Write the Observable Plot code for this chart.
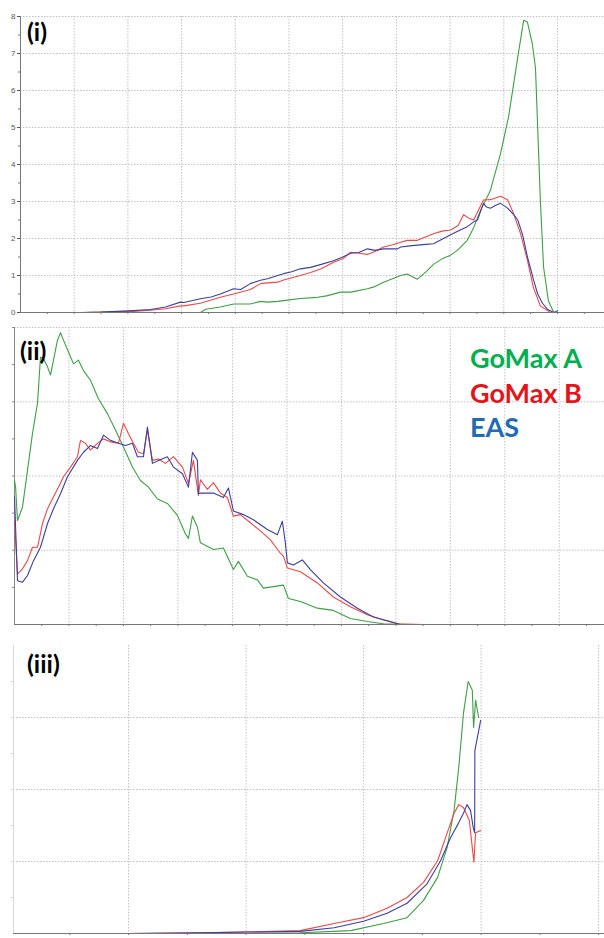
<!DOCTYPE html>
<html><head><meta charset="utf-8">
<script src="https://cdn.jsdelivr.net/npm/d3@7"></script>
<script src="https://cdn.jsdelivr.net/npm/@observablehq/plot@0.6"></script>
<style>
body{margin:0;background:#fff;width:604px;height:938px;position:relative;overflow:hidden;font-family:Lato,"Open Sans",sans-serif}
.panel{position:absolute;left:0}
.lab{position:absolute;font-weight:bold;font-size:25px;color:#000;line-height:1;white-space:nowrap}
.leg{position:absolute;left:470px;font-weight:bold;font-size:27px;line-height:1;white-space:nowrap}
</style></head><body>
<div id="p1" class="panel" style="top:0"></div>
<div id="p2" class="panel" style="top:318px"></div>
<div id="p3" class="panel" style="top:630px"></div>
<div class="lab" style="left:27px;top:19px">(i)</div>
<div class="lab" style="left:20px;top:338px">(ii)</div>
<div class="lab" style="left:27px;top:651px">(iii)</div>
<div class="leg" style="top:344px;color:#00b050">GoMax A</div>
<div class="leg" style="top:379px;color:#e3151c">GoMax B</div>
<div class="leg" style="top:413px;color:#1f6bb5">EAS</div>
<script>
// Series names and colours
const seriesNames = ["GoMax A", "GoMax B", "EAS"];
const lineColors = ["#3f9f46", "#ee4848", "#3d3f9e"];

// Panel (i): [x, value]
const p1GoMaxA = [[1.0,0],[3.35,0],[3.45,0.09],[3.72,0.15],[3.97,0.23],[4.28,0.23],[4.47,0.3],[4.6,0.28],[4.79,0.3],[4.9,0.32],[5.21,0.38],[5.53,0.41],[5.7,0.45],[5.96,0.55],[6.15,0.55],[6.46,0.64],[6.6,0.7],[6.76,0.82],[7.08,1.0],[7.2,1.04],[7.39,0.9],[7.55,1.1],[7.69,1.3],[7.85,1.45],[8.01,1.55],[8.15,1.7],[8.32,1.95],[8.44,2.3],[8.57,2.77],[8.75,3.3],[8.94,4.3],[9.09,5.3],[9.26,6.9],[9.37,7.9],[9.44,7.85],[9.53,7.27],[9.59,6.6],[9.68,3.05],[9.74,1.23],[9.83,0.32],[9.93,0]];
const p1GoMaxB = [[1.15,0],[1.5,0.01],[2.1,0.03],[2.42,0.06],[2.7,0.1],[2.98,0.18],[3.04,0.18],[3.35,0.25],[3.72,0.41],[3.97,0.5],[4.28,0.62],[4.47,0.78],[4.6,0.8],[4.79,0.82],[4.9,0.88],[5.21,1.0],[5.4,1.08],[5.6,1.18],[5.83,1.36],[6.0,1.45],[6.15,1.63],[6.3,1.6],[6.46,1.57],[6.6,1.65],[6.76,1.77],[6.9,1.82],[7.08,1.9],[7.2,1.95],[7.39,1.95],[7.55,2.05],[7.69,2.13],[7.85,2.2],[8.01,2.23],[8.15,2.35],[8.25,2.64],[8.35,2.55],[8.44,2.5],[8.62,3.04],[8.75,3.05],[8.94,3.14],[9.07,3.05],[9.18,2.68],[9.31,2.14],[9.44,1.41],[9.55,0.68],[9.68,0.18],[9.87,0]];
const p1EAS = [[1.15,0],[1.5,0.01],[2.1,0.05],[2.42,0.08],[2.7,0.15],[2.98,0.28],[3.04,0.27],[3.35,0.37],[3.55,0.42],[3.72,0.5],[3.97,0.64],[4.1,0.62],[4.28,0.78],[4.47,0.87],[4.6,0.91],[4.79,1.0],[4.9,1.05],[5.05,1.1],[5.21,1.18],[5.4,1.22],[5.6,1.3],[5.83,1.4],[6.0,1.5],[6.15,1.6],[6.3,1.62],[6.46,1.72],[6.6,1.68],[6.76,1.72],[7.02,1.72],[7.08,1.77],[7.25,1.8],[7.39,1.82],[7.55,1.84],[7.69,1.86],[7.85,1.98],[8.01,2.1],[8.15,2.2],[8.32,2.32],[8.44,2.45],[8.51,2.5],[8.62,2.95],[8.68,2.85],[8.75,2.82],[8.85,2.9],[8.94,2.95],[9.07,2.82],[9.18,2.65],[9.26,2.5],[9.35,2.1],[9.44,1.5],[9.55,0.9],[9.63,0.5],[9.72,0.25],[9.81,0.09],[9.93,0],[10.0,0.05]];
const p1YTicks = [0,1,2,3,4,5,6,7,8];

// Panel (ii): [x, value]
const p2GoMaxA = [[0,1.94],[0.02,1.85],[0.055,1.40],[0.147,1.58],[0.239,2.08],[0.33,2.57],[0.422,2.98],[0.477,3.6],[0.532,3.58],[0.606,3.47],[0.661,3.36],[0.716,3.56],[0.789,3.83],[0.844,3.93],[0.899,3.83],[0.991,3.67],[1.083,3.51],[1.174,3.56],[1.266,3.42],[1.394,3.29],[1.541,3.04],[1.706,2.84],[1.853,2.62],[2.0,2.39],[2.165,2.12],[2.312,1.94],[2.459,1.85],[2.624,1.69],[2.807,1.63],[2.991,1.47],[3.138,1.22],[3.193,1.16],[3.266,1.46],[3.358,1.31],[3.413,1.10],[3.651,1.01],[3.835,1.03],[4.018,0.74],[4.110,0.85],[4.275,0.65],[4.459,0.6],[4.569,0.49],[4.752,0.51],[4.936,0.53],[5.028,0.35],[5.248,0.31],[5.560,0.22],[5.853,0.19],[6.165,0.08],[6.477,0.04],[6.771,0.01],[7.2,0],[8.18,0]];
const p2GoMaxB = [[0,1.40],[0.055,0.68],[0.147,0.75],[0.239,0.86],[0.33,1.04],[0.422,1.04],[0.514,1.36],[0.606,1.56],[0.716,1.72],[0.807,1.85],[0.899,1.99],[1.028,2.12],[1.156,2.26],[1.211,2.48],[1.303,2.44],[1.394,2.35],[1.523,2.44],[1.633,2.5],[1.761,2.46],[1.908,2.44],[2.0,2.71],[2.092,2.57],[2.183,2.44],[2.275,2.32],[2.367,2.3],[2.44,2.62],[2.532,2.21],[2.642,2.23],[2.771,2.17],[2.917,2.26],[3.083,2.12],[3.193,1.9],[3.284,2.21],[3.376,1.74],[3.413,1.95],[3.541,1.82],[3.651,1.91],[3.780,1.77],[3.908,1.71],[4.018,1.46],[4.147,1.48],[4.330,1.37],[4.514,1.26],[4.697,1.14],[4.881,0.96],[4.936,0.92],[5.009,0.76],[5.248,0.71],[5.560,0.56],[5.853,0.37],[6.165,0.24],[6.477,0.13],[6.771,0.06],[7.028,0.01],[7.5,0],[8.18,0]];
const p2EAS = [[0,1.72],[0.055,0.59],[0.147,0.57],[0.239,0.66],[0.349,0.86],[0.477,1.04],[0.606,1.36],[0.716,1.56],[0.844,1.76],[0.972,1.99],[1.156,2.21],[1.266,2.32],[1.394,2.41],[1.523,2.37],[1.633,2.55],[1.761,2.48],[1.908,2.44],[2.037,2.41],[2.165,2.44],[2.257,2.26],[2.367,2.26],[2.44,2.66],[2.532,2.17],[2.642,2.21],[2.807,2.26],[2.917,2.12],[3.083,2.03],[3.193,1.85],[3.266,2.32],[3.358,2.21],[3.376,1.76],[3.413,1.77],[3.651,1.77],[3.835,1.71],[3.927,1.84],[4.018,1.53],[4.202,1.48],[4.385,1.41],[4.642,1.28],[4.826,1.21],[4.917,1.39],[4.972,1.1],[5.009,0.83],[5.119,0.8],[5.284,0.87],[5.431,0.74],[5.670,0.56],[5.982,0.37],[6.294,0.22],[6.587,0.1],[6.899,0.04],[7.083,0.0],[8.18,0]];

// Panel (iii): [x, value]
const p3GoMaxA = [[1.0,0],[2.0,0],[2.46,0.01],[2.89,0.04],[3.17,0.14],[3.37,0.22],[3.51,0.46],[3.63,0.78],[3.71,1.19],[3.77,1.71],[3.81,2.31],[3.85,3.06],[3.89,3.5],[3.925,3.38],[3.936,2.86],[3.953,3.24],[3.979,3.0]];
const p3GoMaxB = [[1.0,0],[1.61,0.01],[2.0,0.02],[2.46,0.04],[2.75,0.14],[3.0,0.22],[3.2,0.35],[3.37,0.5],[3.51,0.71],[3.63,1.01],[3.71,1.39],[3.77,1.67],[3.81,1.79],[3.85,1.75],[3.9,1.57],[3.925,1.19],[3.939,0.99],[3.953,1.40],[3.996,1.43]];
const p3EAS = [[1.0,0],[1.61,0.01],[2.0,0.02],[2.46,0.03],[2.75,0.08],[3.0,0.17],[3.2,0.28],[3.37,0.42],[3.54,0.69],[3.655,1.01],[3.74,1.33],[3.81,1.54],[3.85,1.67],[3.88,1.79],[3.91,1.71],[3.934,1.46],[3.945,1.40],[3.947,2.54],[3.98,2.82],[3.996,2.96]];

const gridStyle = {stroke: "#c2c2c2", strokeDasharray: "1.5,1.5", strokeWidth: 1};

function panel(el, o) {
  const marks = [
    Plot.ruleX(o.xGrid, gridStyle),
    Plot.ruleY(o.yGrid, gridStyle),
    Plot.axisX(o.xMinor, {tickSize: 2, tickFormat: () => "", label: null, stroke: "#777"}),
    Plot.axisY(o.yMinor, {tickSize: 2, tickFormat: () => "", label: null, stroke: o.leftColor}),
  ];
  if (o.yLabels) marks.push(Plot.axisY(o.yLabels, {tickSize: 3, tickPadding: 2, fontSize: 8, color: "#555", label: null}));
  marks.push(
    Plot.ruleX([o.xDomain[0]], {stroke: o.leftColor, strokeWidth: 1}),
    Plot.ruleY([0], {stroke: "#777", strokeWidth: 1.2})
  );
  o.series.forEach((s, i) => marks.push(Plot.line(s, {x: d => d[0], y: d => d[1], stroke: lineColors[i], strokeWidth: 1.1, clip: true})));
  const chart = Plot.plot({
    width: 604, height: o.height,
    marginLeft: o.ml, marginRight: 0, marginTop: o.mt, marginBottom: o.mb,
    x: {domain: o.xDomain},
    y: {domain: o.yDomain},
    style: {background: "transparent", fontFamily: "Liberation Sans"},
    marks
  });
  document.getElementById(el).appendChild(chart);
}

panel("p1", {
  height: 318, ml: 20, mt: 16, mb: 6,
  xDomain: [0, 10.875], yDomain: [0, 8],
  xGrid: d3.range(1, 11), yGrid: d3.range(1, 9),
  xMinor: d3.range(0.5, 10.9, 0.5), yMinor: d3.range(0.5, 8, 1),
  yLabels: p1YTicks, leftColor: "#777",
  series: [p1GoMaxA, p1GoMaxB, p1EAS]
});
panel("p2", {
  height: 312, ml: 14, mt: 9, mb: 6,
  xDomain: [0, 10.83], yDomain: [0, 4],
  xGrid: d3.range(1, 11), yGrid: d3.range(1, 5),
  xMinor: d3.range(0.5, 10.8, 0.5), yMinor: d3.range(0.5, 4.1, 0.5),
  yLabels: null, leftColor: "#888",
  series: [p2GoMaxA, p2GoMaxB, p2EAS]
});
panel("p3", {
  height: 308, ml: 13, mt: 15, mb: 5,
  xDomain: [0.021, 5.05], yDomain: [0, 4],
  xGrid: d3.range(1, 6), yGrid: d3.range(1, 4),
  xMinor: d3.range(0.5, 5.05, 0.5), yMinor: d3.range(0.5, 4, 0.5),
  yLabels: null, leftColor: "#d8d8d8",
  series: [p3GoMaxA, p3GoMaxB, p3EAS]
});
</script>
</body></html>
